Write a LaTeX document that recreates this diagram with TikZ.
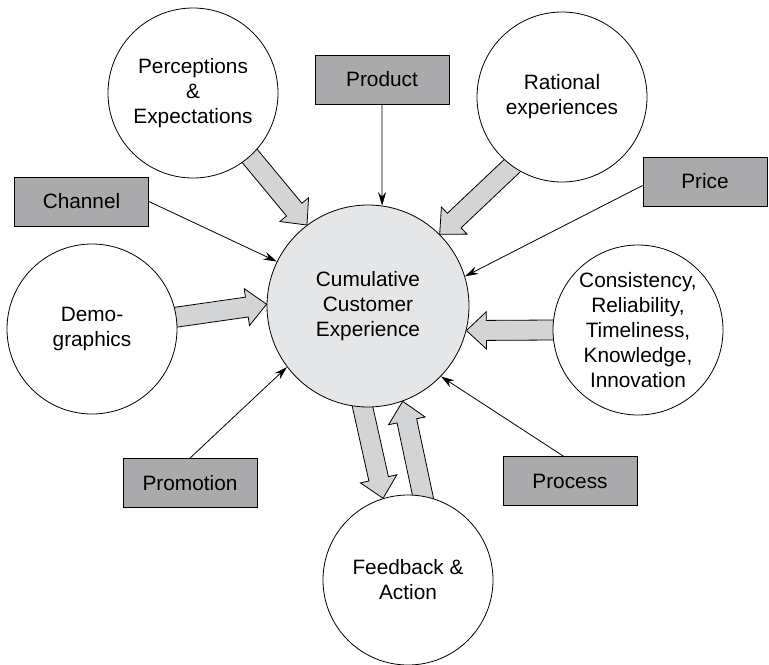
\documentclass[tikz,border=0pt]{standalone}
\definecolor{boxgray}{RGB}{170, 170, 172}
\definecolor{arrgray}{RGB}{211, 212, 214}
\definecolor{coregray}{RGB}{229, 230, 232}
\usepackage{fontspec}
\setmainfont{Liberation Sans}
\usepackage{tikz}
\usetikzlibrary{arrows.meta, positioning, calc}
\pgfdeclarelayer{bg}
\pgfsetlayers{bg,main}
\newcommand{\bigarrow}[2]{%
  \coordinate (ba-s) at ($(#1)!-6pt!(#2)$);
  \coordinate (ba-b) at ($(#2)!15pt!(#1)$);
  \draw[bigarr] ($(ba-s)!7.5pt!90:(#2)$) -- ($(ba-b)!7.5pt!90:(#2)$) -- ($(ba-b)!14pt!90:(#2)$)
    -- (#2) -- ($(ba-b)!14pt!-90:(#2)$) -- ($(ba-b)!7.5pt!-90:(#2)$) -- ($(ba-s)!7.5pt!-90:(#2)$) -- cycle;}

\begin{document}
\begin{tikzpicture}[x=0.75pt, y=-0.75pt,
  txt/.style={font=\fontsize{15.6}{18.75}\selectfont, align=center},
  circ/.style={txt, draw, circle, fill=white, inner sep=0pt, line width=0.6pt, minimum size=127.5pt},
  mbox/.style={txt, draw, fill=boxgray, inner sep=0pt, line width=0.6pt, minimum width=100.5pt, minimum height=36.75pt},
  feed/.style={-{Stealth[length=10pt, width=6pt]}, line width=0.6pt},
  bigarr/.style={draw, fill=arrgray, line width=0.6pt, line join=miter}
]
  \useasboundingbox (0,0) rectangle (769,665);

  % core and outer circles
  \node[circ, fill=coregray, minimum size=151.5pt] (cce) at (368, 306) {Cumulative\\Customer\\Experience};
  \node[circ] (perc) at (193, 93) {Perceptions\\\&\\Expectations};
  \node[circ] (rational) at (562, 97) {Rational\\experiences};
  \node[circ] (demo) at (92, 329) {Demo-\\graphics};
  \node[circ] (consist) at (638, 330) {Consistency,\\Reliability,\\Timeliness,\\Knowledge,\\Innovation};
  \node[circ] (feedback) at (408, 580) {Feedback \&\\Action};

  % the 4 P's
  \node[mbox] (product) at (382, 79.5) {Product};
  \node[mbox] (channel) at (81.5, 201.5) {Channel};
  \node[mbox, minimum width=93pt] (price) at (705, 181.5) {Price};
  \node[mbox] (promotion) at (190, 483) {Promotion};
  \node[mbox] (process) at (570, 481) {Process};

  \draw[feed] (product.south) -- (cce.82);
  \draw[feed] (channel.east) -- (cce.154);
  \draw[feed] ([yshift=-3pt]price.west) -- (cce.17);
  \draw[feed] (promotion.north) -- (cce.217);
  \draw[feed] ([xshift=-5pt]process.north) -- (cce.-44);

  \begin{pgfonlayer}{bg}
    \bigarrow{perc.-48}{cce.127}
    \bigarrow{rational.234}{cce.45}
    \bigarrow{demo.8}{cce.179}
    \bigarrow{consist.180}{cce.-14}
    \bigarrow{cce.-93}{feedback.107}
    \bigarrow{feedback.80}{cce.-70}
  \end{pgfonlayer}
\end{tikzpicture}
\end{document}
